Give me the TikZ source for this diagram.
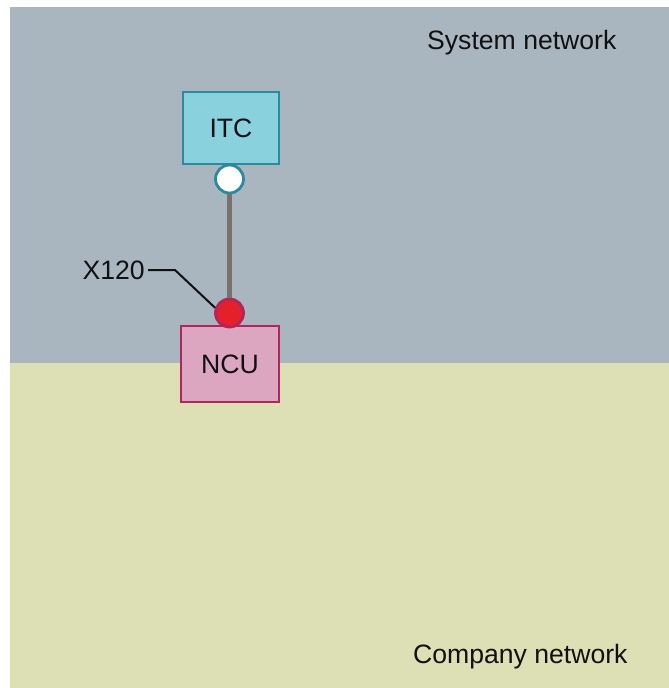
\documentclass[tikz,border=0pt]{standalone}
\usepackage{fontspec}
\setmainfont{Liberation Sans}
\usetikzlibrary{positioning}
\definecolor{sysnet}{HTML}{A9B6BF}
\definecolor{compnet}{HTML}{DCE0B4}
\definecolor{itcfill}{HTML}{8AD1DE}
\definecolor{itcline}{HTML}{2B8A9E}
\definecolor{ncufill}{HTML}{DCA6C0}
\definecolor{nculine}{HTML}{B0255E}
\definecolor{portred}{HTML}{E4202A}
\definecolor{cable}{HTML}{7B716B}
\definecolor{ink}{HTML}{111111}
\tikzset{
  bigfont/.style={font=\fontsize{26.6}{31}\selectfont,text=ink},
  unit/.style={bigfont,draw=#1line,fill=#1fill,line width=2.8pt,inner sep=0pt,align=center},
  port/.style={circle,line width=2.8pt,minimum size=28pt,inner sep=0pt},
  netlbl/.style={bigfont,anchor=base west,inner sep=0pt},
}
\begin{document}
\begin{tikzpicture}[x=1pt,y=-1pt]
    \useasboundingbox (0,0) rectangle (669,688);
    \fill[white] (0,0) rectangle (669,688);
    \fill[sysnet] (10,7) rectangle (669,363);
    \fill[compnet] (10,363) rectangle (669,688);
    \node[netlbl] (sys) at (427,49) {System network};
    \node[netlbl] (comp) at (413,663) {Company network};
    \node[unit=itc,minimum width=96pt,minimum height=72pt] (itc) at (231,128) {ITC};
    \node[unit=ncu,minimum width=98pt,minimum height=76pt] (ncu) at (230,364) {NCU};
    \node[port,draw=itcline,fill=white] (itcport) at (229.5,179) {};
    \node[port,draw=nculine,fill=portred] (x120port) at (229.5,313) {};
    \draw[cable,line width=4.8pt] (itcport) -- (x120port);
    \node[bigfont,anchor=east,inner sep=0pt] (x120) at (145,270) {X120};
    \draw[ink,line width=2pt] (x120.east) ++(3,0) -- ++(27,0) -- (x120port.160);
  \end{tikzpicture}
\end{document}
